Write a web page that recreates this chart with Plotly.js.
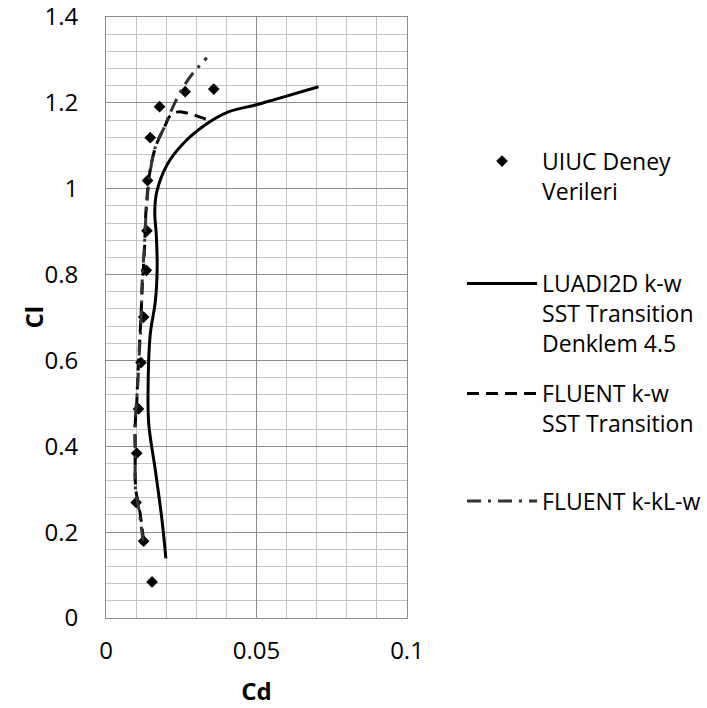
<!DOCTYPE html>
<html>
<head>
<meta charset="utf-8">
<script src="https://cdn.plot.ly/plotly-3.0.1.min.js"></script>
<style>html,body{margin:0;padding:0;background:#fff;}#chart{width:707px;height:708px;}</style>
</head>
<body>
<div id="chart"></div>
<script>
// UIUC experimental data
var uiucCd = [0.0153, 0.0125, 0.0100, 0.0102, 0.0108, 0.0116, 0.0125, 0.0134, 0.0136, 0.0138, 0.0147, 0.0178, 0.0263, 0.0358];
var uiucCl = [0.084, 0.179, 0.269, 0.384, 0.487, 0.595, 0.701, 0.810, 0.902, 1.019, 1.119, 1.191, 1.226, 1.232];

// LUADI2D k-w SST Transition Denklem 4.5
var luadiCd = [0.0199, 0.0186, 0.0164, 0.0142, 0.0140, 0.0147, 0.0164, 0.0170, 0.0167, 0.0162, 0.0169, 0.0203, 0.0252, 0.0330, 0.0407, 0.0496, 0.0557, 0.0706];
var luadiCl = [0.139, 0.228, 0.344, 0.452, 0.545, 0.661, 0.738, 0.816, 0.893, 0.947, 0.994, 1.056, 1.102, 1.149, 1.179, 1.195, 1.207, 1.2375];

// FLUENT k-w SST Transition
var sstCd = [0.0125, 0.0112, 0.0099, 0.0097, 0.0097, 0.0102, 0.0105, 0.0110, 0.0116, 0.0121, 0.0128, 0.0133, 0.0146, 0.0166, 0.0195, 0.0213, 0.0240, 0.0265, 0.0308, 0.0352];
var sstCl = [0.180, 0.250, 0.300, 0.390, 0.450, 0.500, 0.550, 0.620, 0.700, 0.780, 0.860, 0.950, 1.040, 1.100, 1.145, 1.170, 1.179, 1.177, 1.168, 1.157];

// FLUENT k-kL-w
var kklCd = [0.0123, 0.0110, 0.0098, 0.0097, 0.0096, 0.0101, 0.0106, 0.0111, 0.0117, 0.0120, 0.0127, 0.0134, 0.0147, 0.0165, 0.0195, 0.0222, 0.0255, 0.0290, 0.0335];
var kklCl = [0.180, 0.250, 0.300, 0.390, 0.450, 0.500, 0.550, 0.620, 0.700, 0.780, 0.860, 0.950, 1.040, 1.100, 1.145, 1.190, 1.235, 1.270, 1.305];

var names = ['UIUC Deney<br>Verileri', 'LUADI2D k-w<br>SST Transition<br>Denklem 4.5', 'FLUENT k-w<br>SST Transition', 'FLUENT k-kL-w'];

// tick labels
var xTickVals = [0, 0.05, 0.1];
var xTickText = ['0', '0.05', '0.1'];
var yTickVals = [0, 0.2, 0.4, 0.6, 0.8, 1.0, 1.2, 1.4];
var yTickText = ['0', '0.2', '0.4', '0.6', '0.8', '1', '1.2', '1.4'];

var FONT = 'Open Sans, sans-serif';

var traces = [
  {x: uiucCd, y: uiucCl, name: names[0], type: 'scatter', mode: 'markers',
   marker: {symbol: 'diamond', size: 9, color: '#000'}, legend: 'legend'},
  {x: luadiCd, y: luadiCl, name: names[1], type: 'scatter', mode: 'lines',
   line: {color: '#000', width: 3, shape: 'spline', smoothing: 1}, legend: 'legend2'},
  {x: sstCd, y: sstCl, name: names[2], type: 'scatter', mode: 'lines',
   line: {color: '#000', width: 3, dash: '12px,7px', shape: 'spline', smoothing: 1}, legend: 'legend3'},
  {x: kklCd, y: kklCl, name: names[3], type: 'scatter', mode: 'lines',
   line: {color: '#333333', width: 3, dash: '14px,7px,3px,7px', shape: 'spline', smoothing: 1}, legend: 'legend4'}
];

function leg(y) {
  return {x: 0.6535, y: y, xref: 'container', yref: 'container', xanchor: 'left', yanchor: 'top',
          bgcolor: 'rgba(0,0,0,0)',
          font: {family: FONT, size: 23, color: '#000'}, itemwidth: 70, valign: 'top',
          tracegroupgap: 0};
}

var layout = {
  width: 707, height: 708,
  margin: {l: 106, r: 300, t: 17, b: 90, autoexpand: false},
  paper_bgcolor: '#fff', plot_bgcolor: '#fff',
  font: {family: FONT, size: 24, color: '#000'},
  showlegend: true,
  legend: leg(0.8028),
  legend2: leg(0.6300),
  legend3: leg(0.4746),
  legend4: leg(0.3227),
  xaxis: {
    range: [0, 0.1], tickmode: 'array', tickvals: xTickVals, ticktext: xTickText,
    showgrid: true, gridcolor: '#8c8c8c', gridwidth: 1,
    minor: {tick0: 0, dtick: 0.01, showgrid: true, gridcolor: '#c4c4c4', gridwidth: 1},
    showline: true, linecolor: '#8c8c8c', linewidth: 1, mirror: true,
    zeroline: false, ticklabeloverflow: 'allow',
    ticks: 'outside', ticklen: 11, tickcolor: 'rgba(0,0,0,0)',
    tickfont: {family: FONT, size: 24, color: '#000'},
    title: {text: '<b>Cd</b>', font: {family: FONT, size: 24, color: '#000'}, standoff: 18}
  },
  yaxis: {
    range: [0, 1.4], tickmode: 'array', tickvals: yTickVals, ticktext: yTickText,
    showgrid: true, gridcolor: '#8c8c8c', gridwidth: 1,
    minor: {tick0: 0, dtick: 0.04, showgrid: true, gridcolor: '#c4c4c4', gridwidth: 1},
    showline: true, linecolor: '#8c8c8c', linewidth: 1, mirror: true,
    zeroline: false, ticklabeloverflow: 'allow',
    ticks: 'outside', ticklen: 22, tickcolor: 'rgba(0,0,0,0)',
    tickfont: {family: FONT, size: 24, color: '#000'}
  },
  annotations: [
    {text: '<b>Cl</b>', xref: 'paper', yref: 'paper', x: -0.2425, y: 0.5,
     xanchor: 'center', yanchor: 'middle', textangle: -90, showarrow: false,
     font: {family: FONT, size: 24, color: '#000'}}
  ]
};

Plotly.newPlot('chart', traces, layout, {staticPlot: true, displayModeBar: false});
</script>
</body>
</html>
